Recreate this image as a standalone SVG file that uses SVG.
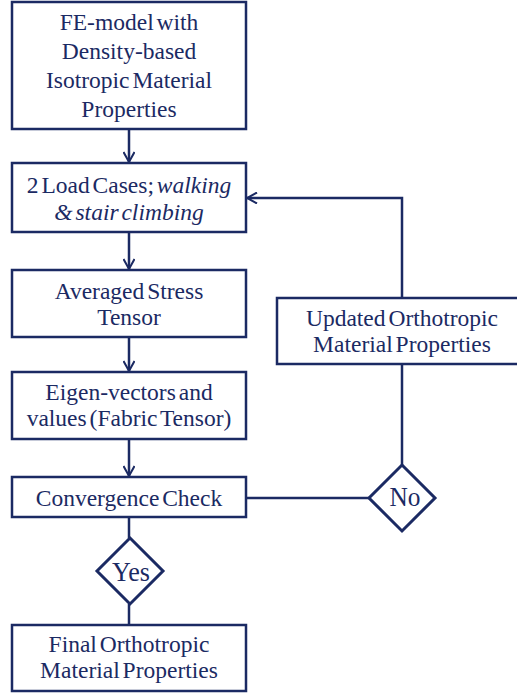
<svg xmlns="http://www.w3.org/2000/svg" width="517" height="696" viewBox="0 0 517 696">
<defs>
<marker id="arr" viewBox="0 0 12 12" refX="11" refY="6" markerWidth="12" markerHeight="12" markerUnits="userSpaceOnUse" orient="auto">
<path d="M1,0.5 L11,6 L1,11.5" fill="none" stroke="#1b2a63" stroke-width="2"/>
</marker>
<style>
.box{fill:#fff;stroke:#1b2a63;stroke-width:2.5}
.dia{fill:#fff;stroke:#1b2a63;stroke-width:3}
text{font-family:'Liberation Serif','Times New Roman',serif;fill:#1b2a63;text-anchor:middle}
.t{font-size:23.5px;word-spacing:-3px}
.d{font-size:27px}
.c{fill:none;stroke:#1b2a63;stroke-width:2.5}
</style>
</defs>
<rect width="517" height="696" fill="#fff"/>
<g id="connectors">
<line class="c" x1="129" y1="129" x2="129" y2="162" marker-end="url(#arr)"/>
<line class="c" x1="129" y1="232" x2="129" y2="269" marker-end="url(#arr)"/>
<line class="c" x1="129" y1="337" x2="129" y2="371" marker-end="url(#arr)"/>
<line class="c" x1="129" y1="439" x2="129" y2="476" marker-end="url(#arr)"/>
<line class="c" x1="129" y1="517" x2="129" y2="538"/>
<line class="c" x1="129" y1="604" x2="129" y2="625"/>
<line class="c" x1="246" y1="498" x2="369" y2="498"/>
<line class="c" x1="402" y1="465" x2="402" y2="364"/>
<polyline class="c" points="402,298 402,198 247,198" marker-end="url(#arr)"/>
</g>
<g id="n1">
<rect class="box" x="12" y="2" width="234" height="127"/>
<text class="t" x="129" y="30">FE-model with</text>
<text class="t" x="129" y="59">Density-based</text>
<text class="t" x="129" y="88">Isotropic Material</text>
<text class="t" x="129" y="117">Properties</text>
</g>
<g id="n2">
<rect class="box" x="12" y="163" width="234" height="69"/>
<text class="t" x="129" y="193">2 Load Cases; <tspan font-style="italic">walking</tspan></text>
<text class="t" x="129" y="220" font-style="italic">&amp; stair climbing</text>
</g>
<g id="n3">
<rect class="box" x="12" y="270" width="234" height="67"/>
<text class="t" x="129" y="299">Averaged Stress</text>
<text class="t" x="129" y="325">Tensor</text>
</g>
<g id="n4">
<rect class="box" x="12" y="372" width="234" height="67"/>
<text class="t" x="129" y="400">Eigen-vectors and</text>
<text class="t" x="129" y="426">values (Fabric Tensor)</text>
</g>
<g id="n5">
<rect class="box" x="12" y="477" width="234" height="40"/>
<text class="t" x="129" y="506">Convergence Check</text>
</g>
<g id="n6">
<rect class="box" x="277" y="298" width="245" height="66"/>
<text class="t" x="402" y="326">Updated Orthotropic</text>
<text class="t" x="402" y="352">Material Properties</text>
</g>
<g id="no">
<polygon class="dia" points="402,465 435,498 402,531 369,498"/>
<text class="d" x="405" y="506" textLength="31" lengthAdjust="spacingAndGlyphs">No</text>
</g>
<g id="yes">
<polygon class="dia" points="130,538 163,571 130,604 97,571"/>
<text class="d" x="131" y="581" textLength="38" lengthAdjust="spacingAndGlyphs">Yes</text>
</g>
<g id="n7">
<rect class="box" x="12" y="625" width="234" height="66"/>
<text class="t" x="129" y="652">Final Orthotropic</text>
<text class="t" x="129" y="678">Material Properties</text>
</g>
</svg>
